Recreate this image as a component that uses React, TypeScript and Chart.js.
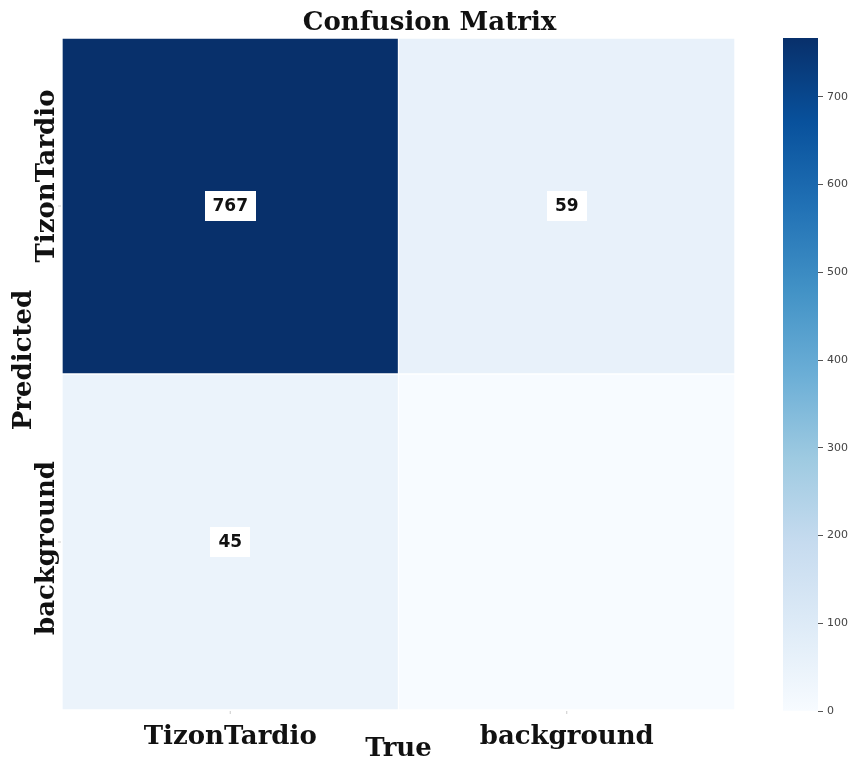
import React, { useEffect, useRef } from 'react';
import { Chart, registerables } from 'chart.js';

Chart.register(...registerables);

// ---- data ----
const trueLabels = ['TizonTardio', 'background'];
const predictedLabels = ['TizonTardio', 'background'];
const rowTizonTardio = [767, 59];
const rowBackground = [45, 0];
const colorbarTicks = [0, 100, 200, 300, 400, 500, 600, 700];
const colorMin = 0;
const colorMax = 767;

const titleText = 'Confusion Matrix';
const xTitle = 'True';
const yTitle = 'Predicted';

// matplotlib "Blues"
const BLUES = ['#f7fbff', '#deebf7', '#c6dbef', '#9ecae1', '#6baed6', '#4292c6', '#2171b5', '#08519c', '#08306b'];

function hexToRgb(h: string) {
  const n = parseInt(h.slice(1), 16);
  return [(n >> 16) & 255, (n >> 8) & 255, n & 255];
}
function blues(t: number) {
  const tt = Math.max(0, Math.min(1, t)) * (BLUES.length - 1);
  const i = Math.min(BLUES.length - 2, Math.floor(tt));
  const f = tt - i;
  const a = hexToRgb(BLUES[i]);
  const b = hexToRgb(BLUES[i + 1]);
  const c = a.map((v, k) => Math.round(v + (b[k] - v) * f));
  return `rgb(${c[0]},${c[1]},${c[2]})`;
}

const SERIF = '"DejaVu Serif", serif';
const SANS = '"DejaVu Sans", sans-serif';

const matrixRows = [rowTizonTardio, rowBackground];
// visual nudges of the rotated y tick labels (layout only)
const yLabelNudge = [-30, 6];

const labelsPlugin = {
  id: 'cmLabels',
  afterDatasetsDraw(chart: any) {
    const ctx = chart.ctx;
    ctx.save();
    ctx.font = `bold 17px ${SANS}`;
    ctx.textAlign = 'center';
    ctx.textBaseline = 'middle';
    chart.data.datasets.forEach((ds: any, di: number) => {
      const meta = chart.getDatasetMeta(di);
      meta.data.forEach((el: any, i: number) => {
        const v = ds.values[i];
        if (!v) return;
        const p = el.getCenterPoint();
        const txt = String(v);
        const w = ctx.measureText(txt).width + 16;
        const h = 30;
        ctx.fillStyle = '#ffffff';
        ctx.fillRect(Math.round(p.x - w / 2), Math.round(p.y - h / 2), Math.round(w), h);
        ctx.fillStyle = '#111111';
        ctx.fillText(txt, p.x, p.y + 1);
      });
    });
    ctx.restore();
  },
  afterDraw(chart: any) {
    const ctx = chart.ctx;
    const { x, y } = chart.scales;
    const area = chart.chartArea;
    ctx.save();
    ctx.fillStyle = '#111111';
    // title
    ctx.font = `bold 26px ${SERIF}`;
    ctx.textAlign = 'center';
    ctx.textBaseline = 'alphabetic';
    ctx.fillText(titleText, chart.width / 2 + 4, 30);
    // x tick labels
    trueLabels.forEach((l, i) => {
      const px = x.getPixelForValue(i);
      ctx.fillText(l, px, 744);
      ctx.fillStyle = '#cccccc';
      ctx.fillRect(px - 0.5, area.bottom + 1, 1, 3);
      ctx.fillStyle = '#111111';
    });
    ctx.fillText(xTitle, (area.left + area.right) / 2, 756);
    // y tick labels (rotated)
    predictedLabels.forEach((l, i) => {
      const py = y.getPixelForValue(i + 0.5);
      ctx.save();
      ctx.translate(54, py + yLabelNudge[i]);
      ctx.rotate(-Math.PI / 2);
      ctx.fillText(l, 0, 0);
      ctx.restore();
      ctx.fillStyle = '#cccccc';
      ctx.fillRect(area.left - 4, py - 0.5, 3, 1);
      ctx.fillStyle = '#111111';
    });
    ctx.save();
    ctx.translate(31, (area.top + area.bottom) / 2 - 14);
    ctx.rotate(-Math.PI / 2);
    ctx.fillText(yTitle, 0, 0);
    ctx.restore();
    ctx.restore();
  },
};

function MatrixChart() {
  const ref = useRef<HTMLCanvasElement>(null);
  useEffect(() => {
    if (!ref.current) return;
    const datasets = matrixRows.map((row, r) => ({
      label: predictedLabels[r],
      data: row.map(() => [r, r + 1]),
      values: row,
      backgroundColor: row.map((v) => blues((v - colorMin) / (colorMax - colorMin))),
      borderColor: '#ffffff',
      borderWidth: 1,
      borderSkipped: false,
      barPercentage: 1,
      categoryPercentage: 1,
      grouped: false,
    }));
    const chart = new Chart(ref.current, {
      type: 'bar',
      data: { labels: trueLabels, datasets: datasets as any },
      options: {
        animation: false,
        responsive: false,
        maintainAspectRatio: false,
        layout: { padding: { left: 62, right: 116, top: 38, bottom: 50 } },
        plugins: { legend: { display: false }, tooltip: { enabled: false }, title: { display: false } },
        scales: {
          x: { type: 'category', display: false, offset: true },
          y: { type: 'linear', display: false, min: 0, max: 2, reverse: true },
        },
      },
      plugins: [labelsPlugin],
    });
    return () => chart.destroy();
  }, []);
  return <canvas ref={ref} width={851} height={760} style={{ position: 'absolute', left: 0, top: 0, width: 851, height: 760 }} />;
}

function ColorbarChart() {
  const ref = useRef<HTMLCanvasElement>(null);
  useEffect(() => {
    if (!ref.current) return;
    const chart = new Chart(ref.current, {
      type: 'bar',
      data: {
        labels: [''],
        datasets: [
          {
            data: [[colorMin, colorMax]] as any,
            backgroundColor: (c: any) => {
              const area = c.chart.chartArea;
              if (!area) return BLUES[0];
              const g = c.chart.ctx.createLinearGradient(0, area.bottom, 0, area.top);
              BLUES.forEach((col, i) => g.addColorStop(i / (BLUES.length - 1), col));
              return g;
            },
            borderWidth: 0,
            barPercentage: 1,
            categoryPercentage: 1,
          },
        ],
      },
      options: {
        animation: false,
        responsive: false,
        maintainAspectRatio: false,
        layout: { padding: { left: 13, right: 0, top: 38, bottom: 49 } },
        plugins: { legend: { display: false }, tooltip: { enabled: false } },
        scales: {
          x: { display: false },
          y: {
            position: 'right',
            min: colorMin,
            max: colorMax,
            afterBuildTicks: (s: any) => {
              s.ticks = colorbarTicks.map((v) => ({ value: v }));
            },
            afterFit: (s: any) => {
              s.width = 33;
            },
            border: { display: false },
            grid: { drawOnChartArea: false, drawTicks: true, tickLength: 5, color: '#555555', lineWidth: 1 },
            ticks: { padding: 4, color: '#444444', font: { family: SANS, size: 11 } },
          },
        },
      },
    });
    return () => chart.destroy();
  }, []);
  return <canvas ref={ref} width={81} height={760} style={{ position: 'absolute', left: 770, top: 0, width: 81, height: 760 }} />;
}

export default function App() {
  useEffect(() => {
    document.body.style.margin = '0';
  }, []);
  return (
    <div style={{ position: 'relative', width: 851, height: 760, background: '#ffffff' }}>
      <MatrixChart />
      <ColorbarChart />
    </div>
  );
}
